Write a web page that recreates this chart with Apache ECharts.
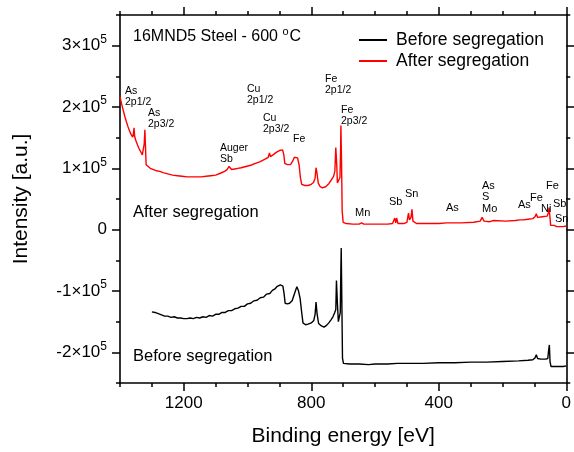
<!DOCTYPE html>
<html><head><meta charset="utf-8">
<script src="https://cdn.jsdelivr.net/npm/echarts@6/dist/echarts.min.js"></script>
<style>html,body{margin:0;padding:0;background:#fff}#c{width:574px;height:452px}</style>
</head><body><div id="c"></div>
<script>
// ---- data ----
const xMajorTicks = [0, 400, 800, 1200];
const xMinorTicks = [0, 100, 200, 300, 400, 500, 600, 700, 800, 900, 1000, 1100, 1200, 1300, 1400];
const yMajorTicks = [-2e5, -1e5, 0, 1e5, 2e5, 3e5];
const yMinorTicks = [-2.5e5, -2e5, -1.5e5, -1e5, -0.5e5, 0, 0.5e5, 1e5, 1.5e5, 2e5, 2.5e5, 3e5, 3.5e5];
const seriesNames = ['Before segregation', 'After segregation'];

// [binding energy (eV), intensity (a.u.)]
const beforeSegregation = [
 [1300,-1.34e5],[1295,-1.36e5],[1290,-1.35e5],[1285,-1.38e5],[1280,-1.37e5],[1270,-1.39e5],[1260,-1.41e5],
 [1255,-1.39e5],[1250,-1.41e5],[1240,-1.43e5],[1230,-1.42e5],[1220,-1.44e5],[1210,-1.44e5],[1200,-1.45e5],
 [1195,-1.43e5],[1190,-1.45e5],[1180,-1.44e5],[1170,-1.45e5],[1160,-1.43e5],[1150,-1.44e5],[1140,-1.42e5],
 [1130,-1.43e5],[1120,-1.40e5],[1110,-1.41e5],[1100,-1.38e5],[1090,-1.38e5],[1080,-1.35e5],[1070,-1.35e5],
 [1060,-1.32e5],[1050,-1.32e5],[1040,-1.29e5],[1030,-1.28e5],[1020,-1.25e5],[1010,-1.25e5],[1000,-1.21e5],
 [990,-1.20e5],[980,-1.16e5],[970,-1.15e5],[960,-1.11e5],[950,-1.10e5],[940,-1.05e5],[930,-1.04e5],
 [922,-0.99e5],[915,-0.97e5],[908,-0.93e5],[902,-0.95e5],[897,-0.90e5],[893,-0.88e5],[889,-0.92e5],
 [885,-1.05e5],[882,-1.20e5],[875,-1.21e5],[868,-1.20e5],[860,-1.16e5],[853,-1.05e5],[848,-0.97e5],
 [845,-0.93e5],[840,-1.00e5],[835,-1.12e5],[830,-1.35e5],[826,-1.52e5],[818,-1.55e5],[810,-1.54e5],
 [800,-1.52e5],[792,-1.48e5],[788,-1.38e5],[785,-1.18e5],[782,-1.36e5],[777,-1.53e5],[768,-1.57e5],
 [760,-1.59e5],[752,-1.56e5],[745,-1.52e5],[738,-1.47e5],[732,-1.42e5],[727,-1.36e5],[723,-1.30e5],
 [721,-0.83e5],[718,-1.20e5],[715,-1.50e5],[712,-1.48e5],[709,-1.35e5],[707,-0.60e5],[706,-0.30e5],
 [704,-1.20e5],[702,-2.10e5],[699,-2.18e5],[680,-2.19e5],[650,-2.19e5],[620,-2.20e5],[600,-2.19e5],
 [560,-2.19e5],[530,-2.18e5],[500,-2.18e5],[450,-2.18e5],[400,-2.17e5],[350,-2.17e5],[300,-2.16e5],
 [250,-2.16e5],[200,-2.15e5],[150,-2.14e5],[120,-2.13e5],[105,-2.12e5],[98,-2.09e5],[94,-2.04e5],
 [90,-2.10e5],[80,-2.11e5],[65,-2.11e5],[58,-2.10e5],[55,-1.95e5],[53,-1.88e5],[51,-2.15e5],
 [48,-2.23e5],[30,-2.23e5],[10,-2.23e5],[0,-2.22e5]
];
const afterSegregation = [
 [1400,2.17e5],[1395,2.05e5],[1390,1.95e5],[1385,1.85e5],[1380,1.76e5],[1375,1.68e5],[1370,1.61e5],
 [1365,1.55e5],[1360,1.51e5],[1358,1.56e5],[1356,1.66e5],[1354,1.52e5],[1350,1.45e5],[1345,1.38e5],
 [1340,1.32e5],[1335,1.27e5],[1330,1.22e5],[1326,1.20e5],[1324,1.40e5],[1322,1.63e5],[1320,1.35e5],
 [1318,1.06e5],[1314,1.03e5],[1305,1.00e5],[1295,0.98e5],[1285,0.96e5],[1275,0.95e5],[1265,0.93e5],
 [1250,0.91e5],[1235,0.89e5],[1220,0.88e5],[1205,0.87e5],[1190,0.86e5],[1175,0.86e5],[1160,0.86e5],
 [1145,0.86e5],[1130,0.87e5],[1115,0.88e5],[1100,0.89e5],[1085,0.92e5],[1072,0.95e5],[1064,0.98e5],
 [1058,1.03e5],[1054,1.02e5],[1050,0.98e5],[1045,0.97e5],[1040,0.99e5],[1030,1.00e5],[1020,1.01e5],
 [1005,1.03e5],[990,1.05e5],[975,1.08e5],[960,1.11e5],[945,1.15e5],[935,1.18e5],[931,1.25e5],
 [928,1.19e5],[920,1.22e5],[910,1.26e5],[900,1.29e5],[894,1.31e5],[890,1.30e5],[886,1.22e5],
 [883,1.08e5],[875,1.06e5],[865,1.06e5],[858,1.12e5],[853,1.18e5],[847,1.21e5],[843,1.17e5],
 [838,1.05e5],[834,0.85e5],[830,0.74e5],[820,0.72e5],[810,0.72e5],[800,0.74e5],[793,0.77e5],
 [788,0.84e5],[785,1.01e5],[782,0.92e5],[778,0.76e5],[772,0.70e5],[765,0.68e5],[755,0.70e5],
 [745,0.75e5],[737,0.81e5],[730,0.87e5],[726,0.95e5],[723,1.34e5],[720,1.05e5],[718,0.76e5],
 [714,0.74e5],[710,0.85e5],[708,1.30e5],[707,1.70e5],[705,1.10e5],[703,0.30e5],[700,0.12e5],
 [690,0.10e5],[670,0.09e5],[650,0.09e5],[642,0.11e5],[635,0.09e5],[600,0.09e5],[560,0.09e5],
 [545,0.10e5],[538,0.19e5],[535,0.11e5],[532,0.19e5],[528,0.10e5],[510,0.10e5],[500,0.12e5],
 [495,0.27e5],[492,0.16e5],[487,0.20e5],[484,0.33e5],[481,0.14e5],[470,0.10e5],[440,0.10e5],
 [400,0.10e5],[375,0.11e5],[370,0.13e5],[365,0.11e5],[330,0.11e5],[290,0.12e5],[270,0.14e5],
 [264,0.20e5],[258,0.14e5],[240,0.13e5],[228,0.15e5],[222,0.13e5],[190,0.14e5],[160,0.15e5],
 [145,0.16e5],[140,0.18e5],[135,0.16e5],[120,0.17e5],[105,0.18e5],[98,0.21e5],[94,0.26e5],
 [90,0.20e5],[75,0.21e5],[60,0.22e5],[56,0.28e5],[54,0.36e5],[52,0.25e5],[49,0.07e5],[45,0.05e5],
 [38,0.07e5],[35,0.05e5],[30,0.05e5],[25,0.07e5],[20,0.05e5],[10,0.05e5],[0,0.06e5]
];
// peak annotations: [text, x px, top px, font size]
const annotations = [
 ['As\n2p1/2',125,86,10.5],['As\n2p3/2',148,108,10.5],['Auger\nSb',220,143,10.5],
 ['Cu\n2p1/2',247,84,10.5],['Cu\n2p3/2',263,113,10.5],['Fe',293,134,10.5],
 ['Fe\n2p1/2',325,74,10.5],['Fe\n2p3/2',341,105,10.5],
 ['Mn',355,207,11],['Sb',389,196,11],['Sn',405,188,11],['As',446,202,11],
 ['As\nS\nMo',482,180,11],['As',518,199,11],['Fe',530,192,11],['Ni',541,203,11],
 ['Fe',546,180,11],['Sb',553,198,11],['Sn',555,213,11]
];

// ---- chart ----
const FONT = 'Liberation Sans';
const chart = echarts.init(document.getElementById('c'), null, {renderer: 'canvas'});
const lineStyle = {color: '#000', width: 1.6};

function xAx(position, ticks, len, withLine, withLabels) {
  return {
    type: 'value', min: 0, max: 1400, inverse: true, position: position,
    axisLine: {show: withLine, onZero: false, lineStyle: lineStyle},
    axisTick: {show: true, customValues: ticks, length: len, lineStyle: {color: '#000', width: 1.5}},
    axisLabel: withLabels ? {show: true, customValues: ticks, margin: 12, fontSize: 17, color: '#000', fontFamily: FONT,
      formatter: v => String(v)} : {show: false},
    splitLine: {show: false},
    name: withLabels ? 'Binding energy [eV]' : '',
    nameLocation: 'middle', nameGap: 43,
    nameTextStyle: {fontSize: 21, color: '#000', fontFamily: FONT}
  };
}
function yAx(position, ticks, len, withLine, withLabels) {
  return {
    type: 'value', min: -2.5e5, max: 3.5e5, position: position,
    axisLine: {show: withLine, onZero: false, lineStyle: lineStyle},
    axisTick: {show: true, customValues: ticks, length: len, lineStyle: {color: '#000', width: 1.5}},
    axisLabel: withLabels ? {
      show: true, customValues: ticks, margin: 13, color: '#000', fontFamily: FONT,
      formatter: v => v === 0 ? '{m|0}' : '{m|' + (v / 1e5) + '×10}{s|5}',
      rich: {
        m: {fontSize: 17, fontFamily: FONT, color: '#000'},
        s: {fontSize: 12, fontFamily: FONT, color: '#000', padding: [0, 0, 12, 0]}
      }
    } : {show: false},
    splitLine: {show: false},
    name: withLabels ? 'Intensity [a.u.]' : '',
    nameLocation: 'middle', nameGap: 88,
    nameTextStyle: {fontSize: 21, color: '#000', fontFamily: FONT}
  };
}

const graphics = [
  {type: 'text', left: 133, top: 26, style: {
    text: '{a|16MND5 Steel - 600 }{s|o}{a|C}',
    rich: {a: {fontSize: 16, fontFamily: FONT, fill: '#000'}, s: {fontSize: 11, fontFamily: FONT, fill: '#000', padding: [0,1,11,0]}}
  }},
  {type: 'text', left: 133, top: 204, style: {text: 'After segregation', fontSize: 16.5, fontFamily: FONT, fill: '#000'}},
  {type: 'text', left: 133, top: 348, style: {text: 'Before segregation', fontSize: 16.5, fontFamily: FONT, fill: '#000'}}
];
annotations.forEach(a => graphics.push({
  type: 'text', left: a[1], top: a[2], z: 10,
  style: {text: a[0], fontSize: a[3], lineHeight: a[3] + 0.5, fontFamily: FONT, fill: '#000'}
}));

chart.setOption({
  animation: false,
  backgroundColor: '#fff',
  grid: {left: 120, right: 6, top: 15, bottom: 69, containLabel: false},
  legend: {
    orient: 'vertical', left: 354, top: 26, itemGap: 3,
    itemWidth: 28, itemHeight: 2, icon: 'rect',
    textStyle: {fontSize: 17.5, lineHeight: 18, color: '#000', fontFamily: FONT, padding: [0, 0, 0, 4]},
    data: seriesNames
  },
  xAxis: [
    xAx('bottom', xMajorTicks, 8, true, true),
    xAx('bottom', xMinorTicks, 4, false, false),
    xAx('top', xMajorTicks, 8, true, false),
    xAx('top', xMinorTicks, 4, false, false)
  ],
  yAxis: [
    yAx('left', yMajorTicks, 8, true, true),
    yAx('left', yMinorTicks, 4, false, false),
    yAx('right', yMajorTicks, 8, true, false),
    yAx('right', yMinorTicks, 4, false, false)
  ],
  series: [
    {name: seriesNames[0], type: 'line', data: beforeSegregation, showSymbol: false, xAxisIndex: 0, yAxisIndex: 0,
     lineStyle: {color: '#000', width: 1.4}, itemStyle: {color: '#000'}},
    {name: seriesNames[1], type: 'line', data: afterSegregation, showSymbol: false, xAxisIndex: 0, yAxisIndex: 0,
     lineStyle: {color: '#ff0000', width: 1.4}, itemStyle: {color: '#ff0000'}}
  ],
  graphic: graphics
});
</script>
</body></html>
